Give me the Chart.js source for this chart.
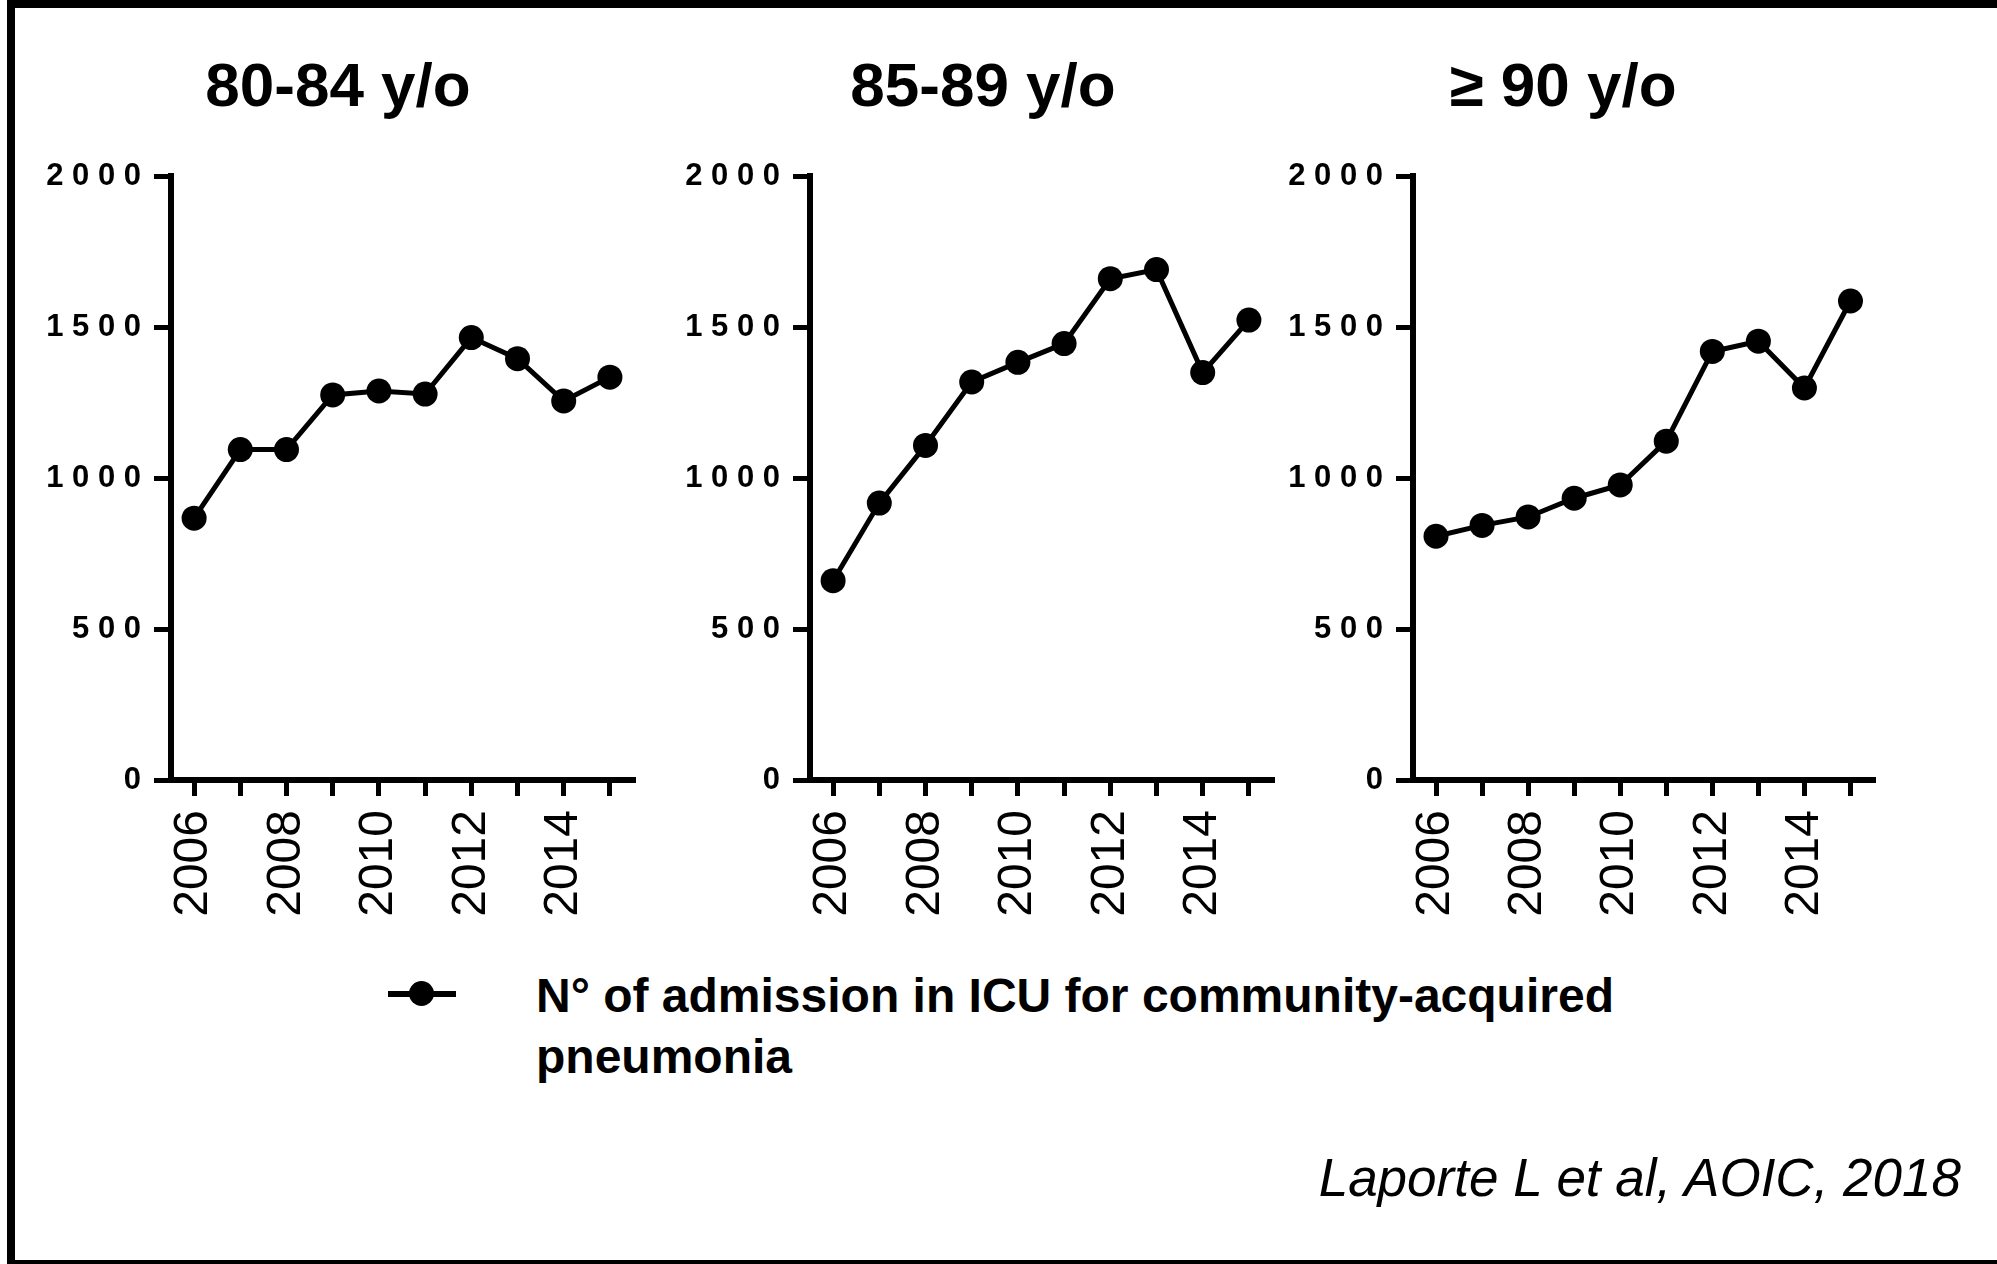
<!DOCTYPE html>
<html>
<head>
<meta charset="utf-8">
<script src="https://cdn.jsdelivr.net/npm/chart.js"></script>
<style>
  html, body { margin: 0; padding: 0; background: #fff; }
  body { width: 1997px; height: 1264px; position: relative; overflow: hidden; font-family: "Liberation Sans", Arial, sans-serif; }
  .frame { position: absolute; left: 7px; top: 0; width: 1990px; height: 1252px; border-top: 8px solid #000; border-left: 8px solid #000; border-bottom: 4px solid #000; box-sizing: content-box; }
  canvas { position: absolute; top: 0; }
  .legend-line { position: absolute; left: 388px; top: 991px; width: 68px; height: 6px; background: #000; }
  .legend-dot { position: absolute; left: 409px; top: 981px; width: 25px; height: 25px; border-radius: 50%; background: #000; }
  .legend-text { position: absolute; left: 536px; top: 965px; font-weight: bold; font-size: 48px; line-height: 61px; color: #000; white-space: nowrap; }
  .cite { position: absolute; right: 36px; top: 1148px; font-style: italic; font-size: 53px; line-height: 60px; color: #000; white-space: nowrap; }
</style>
</head>
<body>
<div class="frame"></div>
<canvas id="c1" width="620" height="940" style="left:28px"></canvas>
<canvas id="c2" width="616" height="940" style="left:675px"></canvas>
<canvas id="c3" width="646" height="940" style="left:1240px"></canvas>
<div class="legend-line"></div>
<div class="legend-dot"></div>
<div class="legend-text">N° of admission in ICU for community-acquired<br>pneumonia</div>
<div class="cite">Laporte L et al, AOIC, 2018</div>

<script>
const years = ['2006', '2007', '2008', '2009', '2010', '2011', '2012', '2013', '2014', '2015'];
const icu80to84 = [867, 1094, 1094, 1275, 1288, 1278, 1465, 1395, 1255, 1334];
const icu85to89 = [660, 917, 1108, 1318, 1383, 1445, 1660, 1690, 1349, 1523];
const icu90plus = [807, 843, 871, 933, 977, 1122, 1419, 1453, 1298, 1586];
const panelTitles = ['80-84 y/o', '85-89 y/o', '≥ 90 y/o'];
const yMin = 0, yMax = 2000, yStep = 500;
const seriesLabel = 'N° of admission in ICU for community-acquired pneumonia';

const FONT = '"Liberation Sans", Arial, sans-serif';

// yWidth: room for the y labels, padRight: gap between plot end and canvas edge
function buildPanel(canvasId, title, values, yWidth, padRight) {
  const ctx = document.getElementById(canvasId);
  return new Chart(ctx, {
    type: 'line',
    data: {
      labels: years,
      datasets: [{
        label: seriesLabel,
        data: values,
        borderColor: '#000',
        backgroundColor: '#000',
        borderWidth: 5,
        pointRadius: 12.5,
        pointHoverRadius: 12.5,
        pointBackgroundColor: '#000',
        pointBorderWidth: 0,
        tension: 0,
        clip: false
      }]
    },
    options: {
      responsive: false,
      animation: false,
      layout: { padding: 0 },
      plugins: {
        legend: { display: false },
        tooltip: { enabled: false },
        title: {
          display: true,
          text: title,
          color: '#000',
          font: { family: FONT, size: 62, weight: 'bold', lineHeight: 1.2 },
          padding: { top: 52, bottom: 49.6 }
        }
      },
      scales: {
        x: {
          type: 'category',
          offset: true,
          afterFit: (scale) => {
            scale.height = 160;
            scale.paddingLeft = 0;
            scale.paddingRight = padRight;
          },
          grid: { drawOnChartArea: false, offset: false, tickLength: 16, lineWidth: 5, tickColor: '#000', color: '#000' },
          border: { display: true, width: 6, color: '#000' },
          ticks: {
            autoSkip: false,
            minRotation: 90,
            maxRotation: 90,
            padding: 14,
            color: '#000',
            font: { family: FONT, size: 48 },
            callback: function (val) {
              const lab = this.getLabelForValue(val);
              return parseInt(lab, 10) % 2 === 0 ? lab : '';
            }
          }
        },
        y: {
          min: yMin,
          max: yMax,
          afterFit: (scale) => { scale.width = yWidth; },
          grid: { drawOnChartArea: false, tickLength: 17, lineWidth: 5, tickColor: '#000', color: '#000' },
          border: { display: true, width: 6, color: '#000' },
          ticks: {
            stepSize: yStep,
            padding: 13,
            color: '#000',
            font: { family: FONT, size: 31, weight: 'bold' },
            callback: (v) => String(v).split('').join(' ')
          }
        }
      }
    }
  });
}

buildPanel('c1', panelTitles[0], icu80to84, 143, 15);
buildPanel('c2', panelTitles[1], icu85to89, 135, 19);
buildPanel('c3', panelTitles[2], icu90plus, 173, 11);
</script>
</body>
</html>
